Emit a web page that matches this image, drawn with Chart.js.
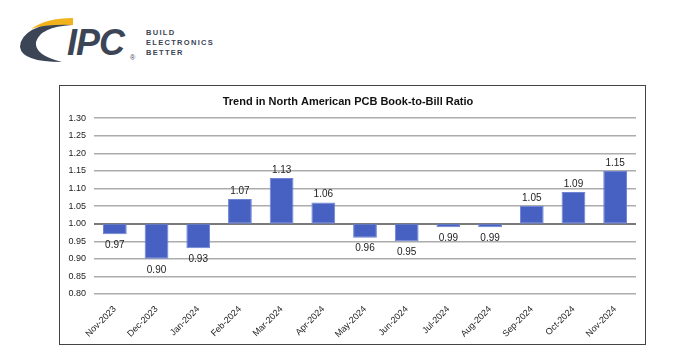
<!DOCTYPE html>
<html>
<head>
<meta charset="utf-8">
<script src="https://cdn.jsdelivr.net/npm/chart.js@4.4.1/dist/chart.umd.min.js"></script>
<style>
  body { margin: 0; background: #fff; width: 700px; height: 361px; position: relative; overflow: hidden; font-family: "Liberation Sans", Arial, sans-serif; }
  #logo { position: absolute; left: 0; top: 0; }
  #box { position: absolute; left: 59px; top: 85px; width: 585px; height: 258px; border: 1.5px solid #444; }
  #chart { display: block; }
</style>
</head>
<body>
<svg id="logo" width="260" height="70">
  <path d="M72 25 Q40 27 36 42 Q34 55 62 62 Q22 62 20 47 Q20 26 72 19 Z" fill="#3b4556"/>
  <path d="M73 18 Q46 18 31 29 Q46 24 73 25 Z" fill="#f2b21b"/>
  <text x="67" y="55" font-family="Liberation Sans, Arial" font-weight="bold" font-style="italic" font-size="36" fill="#3b4556" letter-spacing="-1">IPC</text>
  <text x="130" y="60" font-family="Liberation Sans, Arial" font-size="7" fill="#3b4556">®</text>
  <g font-family="Liberation Sans, Arial" font-weight="bold" font-size="7.5" fill="#3b4556" letter-spacing="1.3">
    <text x="146" y="35">BUILD</text>
    <text x="146" y="45">ELECTRONICS</text>
    <text x="146" y="55">BETTER</text>
  </g>
</svg>
<div id="box"><canvas id="chart" width="585" height="258"></canvas></div>
<script>
const months = ["Nov-2023","Dec-2023","Jan-2024","Feb-2024","Mar-2024","Apr-2024","May-2024","Jun-2024","Jul-2024","Aug-2024","Sep-2024","Oct-2024","Nov-2024"];
const ratio = [0.97, 0.90, 0.93, 1.07, 1.13, 1.06, 0.96, 0.95, 0.99, 0.99, 1.05, 1.09, 1.15];
const baseline = 1.00;

const ctx = document.getElementById("chart").getContext("2d");

// value labels above / below each bar
const barLabels = {
  id: "barLabels",
  afterDatasetsDraw(chart) {
    const c = chart.ctx;
    const meta = chart.getDatasetMeta(0);
    c.save();
    c.font = "10px 'Liberation Sans', Arial";
    c.fillStyle = "#222";
    c.textAlign = "center";
    meta.data.forEach((bar, i) => {
      const v = ratio[i];
      if (v >= baseline) {
        c.textBaseline = "bottom";
        c.fillText(v.toFixed(2), bar.x, Math.min(bar.y, bar.base) - 3);
      } else {
        c.textBaseline = "top";
        c.fillText(v.toFixed(2), bar.x, Math.max(bar.y, bar.base) + 6);
      }
    });
    c.restore();
  }
};

new Chart(ctx, {
  type: "bar",
  data: {
    labels: months,
    datasets: [{
      data: ratio.map(v => [baseline, v]),
      backgroundColor: "#4661c2",
      borderColor: "#6f82d4",
      borderWidth: 1,
      borderSkipped: false,
      barPercentage: 0.57,
      categoryPercentage: 1
    }]
  },
  options: {
    responsive: false,
    animation: false,
    layout: { padding: { left: 0, right: 9, top: 0, bottom: 0 } },
    plugins: {
      legend: { display: false },
      tooltip: { enabled: false },
      title: {
        display: true,
        text: "Trend in North American PCB Book-to-Bill Ratio",
        color: "#111",
        font: { family: "'Liberation Sans', Arial", size: 11, weight: "bold" },
        padding: { top: 9, bottom: 10 }
      }
    },
    scales: {
      x: {
        grid: { display: false },
        border: { display: false },
        ticks: {
          color: "#222",
          font: { family: "'Liberation Sans', Arial", size: 9 },
          minRotation: 45, maxRotation: 45, padding: 2
        },
        afterFit: s => { s.height = 50; }
      },
      y: {
        min: 0.80, max: 1.30,
        grid: {
          drawTicks: false,
          color: c => c.tick && Math.abs(c.tick.value - 1) < 1e-6 ? "#7a7a7a" : "#acacac",
          lineWidth: c => c.tick && Math.abs(c.tick.value - 1) < 1e-6 ? 2 : 1.5
        },
        border: { display: false },
        ticks: {
          stepSize: 0.05,
          color: "#222",
          padding: 8,
          font: { family: "'Liberation Sans', Arial", size: 9 },
          callback: v => v.toFixed(2)
        },
        afterFit: s => { s.width = 34; }
      }
    }
  },
  plugins: [barLabels]
});
</script>
</body>
</html>
